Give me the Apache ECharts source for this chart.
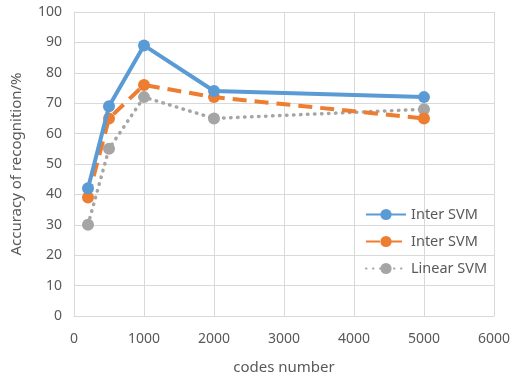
<!DOCTYPE html>
<html>
<head>
<meta charset="utf-8">
<script src="https://cdn.jsdelivr.net/npm/echarts@6/dist/echarts.min.js"></script>
<style>html,body{margin:0;padding:0;background:#fff}#c{width:513px;height:380px}</style>
</head>
<body>
<div id="c"></div>
<script>
// codes number on the x axis
const codes = [200, 500, 1000, 2000, 5000];
// accuracy of recognition (%) per classifier
const interSvmA = [42, 69, 89, 74, 72];
const interSvmB = [39, 65, 76, 72, 65];
const linearSvm = [30, 55, 72, 65, 68];
const seriesNames = ['Inter SVM', 'Inter SVM ', 'Linear SVM'];

const pair = (xs, ys) => xs.map((x, i) => [x, ys[i]]);
const font = 'Noto Sans';
const txt = '#595959';

const chart = echarts.init(document.getElementById('c'));
chart.setOption({
  animation: false,
  grid: { left: 74, right: 17, top: 12, bottom: 64 },
  xAxis: {
    type: 'value', min: 0, max: 6000, interval: 1000,
    name: 'codes number', nameLocation: 'middle', nameGap: 44,
    nameTextStyle: { fontFamily: font, fontSize: 15, color: txt },
    axisLine: { show: true, lineStyle: { color: '#d9d9d9', width: 1 } },
    axisTick: { show: false },
    axisLabel: { fontFamily: font, fontSize: 14, color: txt, margin: 16,
      formatter: v => String(v) },
    splitLine: { show: true, lineStyle: { color: '#d9d9d9', width: 1 } }
  },
  yAxis: {
    type: 'value', min: 0, max: 100, interval: 10,
    name: 'Accuracy of recognition/%', nameLocation: 'middle', nameGap: 50,
    nameTextStyle: { fontFamily: font, fontSize: 15, color: txt },
    axisLine: { show: true, lineStyle: { color: '#d9d9d9', width: 1 } },
    axisTick: { show: false },
    axisLabel: { fontFamily: font, fontSize: 14, color: txt, margin: 12 },
    splitLine: { show: true, lineStyle: { color: '#d9d9d9', width: 1 } }
  },
  legend: {
    orient: 'vertical', left: 360, top: 202,
    itemWidth: 40, itemHeight: 14, itemGap: 12,
    textStyle: { fontFamily: font, fontSize: 14.5, color: txt },
    data: seriesNames
  },
  series: [
    {
      name: seriesNames[0], type: 'line', data: pair(codes, interSvmA),
      symbol: 'circle', symbolSize: 12, z: 4,
      itemStyle: { color: '#5b9bd5' },
      lineStyle: { color: '#5b9bd5', width: 4 }
    },
    {
      name: seriesNames[1], type: 'line', data: pair(codes, interSvmB),
      symbol: 'circle', symbolSize: 12, z: 3,
      itemStyle: { color: '#ed7d31' },
      lineStyle: { color: '#ed7d31', width: 4, type: [14, 8] }
    },
    {
      name: seriesNames[2], type: 'line', data: pair(codes, linearSvm),
      symbol: 'circle', symbolSize: 12, z: 2,
      itemStyle: { color: '#a5a5a5' },
      lineStyle: { color: '#a5a5a5', width: 3.5, type: [0.5, 6.5], cap: 'round' }
    }
  ]
});
</script>
</body>
</html>
